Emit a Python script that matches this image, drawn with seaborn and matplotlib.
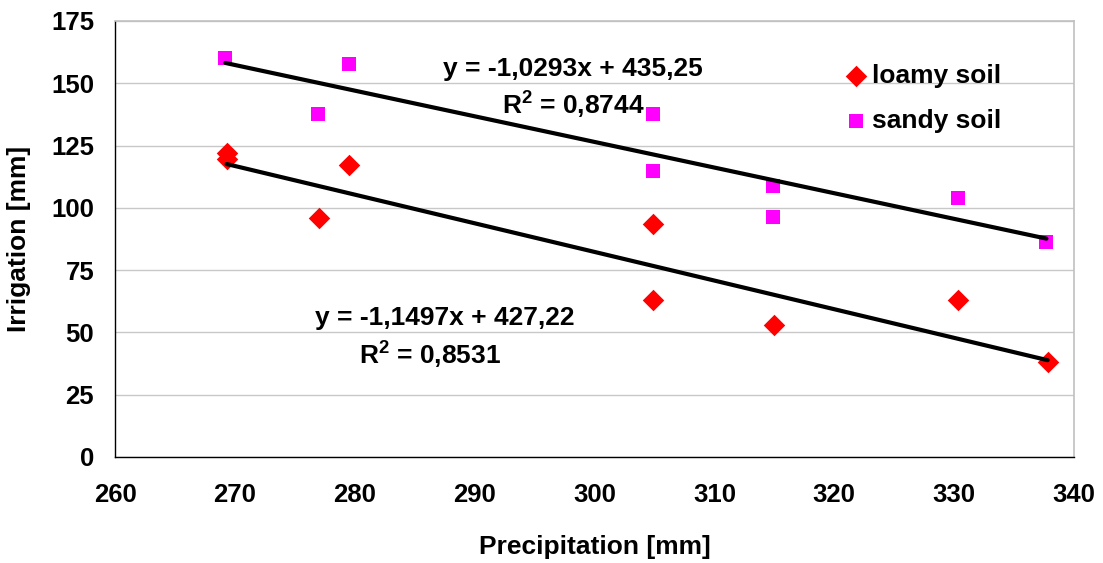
import numpy as np
import pandas as pd
import matplotlib
matplotlib.use("Agg")
import matplotlib.pyplot as plt
import seaborn as sns

# Data
loamy_precip = [269.3, 269.3, 277.0, 279.5, 304.9, 304.9, 315.0, 330.3, 337.8]
loamy_irrig = [122.1, 119.5, 96.0, 117.0, 93.5, 63.0, 53.0, 63.0, 38.0]
sandy_precip = [269.2, 276.9, 279.5, 304.9, 304.9, 314.9, 314.9, 330.3, 337.7]
sandy_irrig = [160.3, 137.5, 157.8, 137.6, 114.9, 108.7, 96.4, 104.0, 86.3]

soil_names = ["loamy soil", "sandy soil"]
trend_slope = [-1.1497, -1.0293]
trend_intercept = [427.22, 435.25]
eq_texts = ["y = -1,1497x + 427,22", "y = -1,0293x + 435,25"]
r2_texts = ["R$^2$ = 0,8531", "R$^2$ = 0,8744"]

x_ticks = list(range(260, 341, 10))
y_ticks = list(range(0, 176, 25))

df = pd.DataFrame({
    "Precipitation": loamy_precip + sandy_precip,
    "Irrigation": loamy_irrig + sandy_irrig,
    "soil": [soil_names[0]] * len(loamy_precip) + [soil_names[1]] * len(sandy_precip),
})

sns.set_style("white")
plt.rcParams["font.family"] = ["Liberation Sans", "DejaVu Sans"]
plt.rcParams["font.weight"] = "bold"
plt.rcParams["mathtext.fontset"] = "custom"
plt.rcParams["mathtext.rm"] = "Liberation Sans:bold"
plt.rcParams["mathtext.bf"] = "Liberation Sans:bold"
plt.rcParams["mathtext.default"] = "rm"
for k in ["text.color", "axes.labelcolor", "xtick.color", "ytick.color"]:
    plt.rcParams[k] = "black"

fig = plt.figure(figsize=(11.03, 5.63), dpi=100)
ax = fig.add_axes([0.1043, 0.1883, 0.8694, 0.7744])

palette = {soil_names[0]: "#FF0000", soil_names[1]: "#FF00FF"}
markers = {soil_names[0]: "D", soil_names[1]: "s"}
sizes = {soil_names[0]: 120, soil_names[1]: 95}

for name in soil_names:
    sub = df[df["soil"] == name]
    sns.scatterplot(data=sub, x="Precipitation", y="Irrigation", color=palette[name],
                    marker=markers[name], s=sizes[name], linewidth=0, ax=ax,
                    label=name, zorder=3)

# Trend lines
for i, name in enumerate(soil_names):
    sub = df[df["soil"] == name]
    xs = np.array([sub["Precipitation"].min(), sub["Precipitation"].max()])
    ys = trend_slope[i] * xs + trend_intercept[i]
    sns.lineplot(x=xs, y=ys, color="black", linewidth=3.0, ax=ax, zorder=4,
                 legend=False)

ax.set_xlim(260, 340)
ax.set_ylim(0, 175)
ax.set_xticks(x_ticks)
ax.set_yticks(y_ticks)
ax.yaxis.grid(True, color="#c8c8c8", linewidth=1.0)
ax.xaxis.grid(False)
ax.set_axisbelow(True)

for s in ["left", "bottom"]:
    ax.spines[s].set_color("black")
    ax.spines[s].set_linewidth(1.0)
for s in ["top", "right"]:
    ax.spines[s].set_color("#c0c0c0")
    ax.spines[s].set_linewidth(1.2)

ax.tick_params(axis="y", which="major", direction="out", length=6, width=1,
               color="black", labelsize=18.5, pad=9)
ax.tick_params(axis="x", which="major", direction="out", length=7, width=1,
               color="black", labelsize=18.5, pad=12)
for lab in ax.get_xticklabels() + ax.get_yticklabels():
    lab.set_fontweight("bold")

ax.set_xlabel("Precipitation [mm]", fontsize=19, fontweight="bold")
ax.set_ylabel("Irrigation [mm]", fontsize=19, fontweight="bold")
ax.xaxis.set_label_coords(0.5, -0.178)
ax.yaxis.set_label_coords(-0.088, 0.5)

# Equation annotations
ax.text(298.2, 155.6, eq_texts[1], ha="center", va="center", fontsize=19, fontweight="bold")
ax.text(298.2, 141.2, r2_texts[1], ha="center", va="center", fontsize=19, fontweight="bold")
ax.text(287.5, 55.7, eq_texts[0], ha="center", va="center", fontsize=19, fontweight="bold")
ax.text(286.3, 40.8, r2_texts[0], ha="center", va="center", fontsize=19, fontweight="bold")

leg = ax.legend(loc="upper left", bbox_to_anchor=(0.748, 0.925), frameon=False,
                fontsize=19, handletextpad=0.1, borderaxespad=0, labelspacing=0.8,
                handlelength=1.0)
for t in leg.get_texts():
    t.set_fontweight("bold")

fig.savefig("out.png", dpi=100)
